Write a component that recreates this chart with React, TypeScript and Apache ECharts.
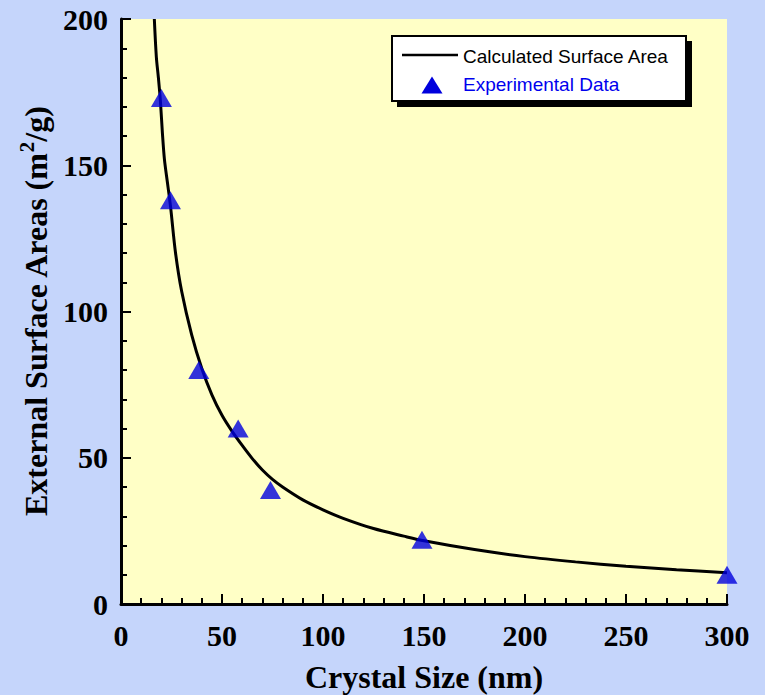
import React, { useEffect, useRef } from "react";
import * as echarts from "echarts";

// Calculated surface area curve
const curveSize = [16.5, 17.5, 18.5, 19.5, 20.5, 21.5, 23, 24.5, 27, 30, 35, 40, 45, 50, 55, 60, 65, 70, 75, 80, 90, 100, 110, 125, 140, 150, 175, 200, 225, 250, 275, 300];
const curveArea = [200, 187, 180, 172, 161, 152, 144, 136, 120, 107, 92, 80.5, 71.5, 64.5, 59, 54.2, 49.7, 45.8, 42.6, 40, 35.6, 32.2, 29.3, 25.8, 23.2, 21.6, 18.6, 16.2, 14.4, 12.9, 11.7, 10.7];

// Experimental data
const expSize = [20, 24.5, 38.5, 58, 74, 149, 300];
const expArea = [173, 138, 80, 60, 39, 22, 10];

const xTicks = [0, 50, 100, 150, 200, 250, 300];
const yTicks = [0, 50, 100, 150, 200];

const seriesNames = ["Calculated Surface Area", "Experimental Data"];

export default function App() {
  const ref = useRef<HTMLDivElement>(null);
  useEffect(() => {
    if (!ref.current) return;
    const chart = echarts.init(ref.current, null, { renderer: "svg" });
    const serif = "'Liberation Serif', 'Times New Roman', serif";
    const sans = "'Liberation Sans', Arial, sans-serif";
    const labelStyle = { fontFamily: serif, fontWeight: "bold" as const, fontSize: 30, color: "#000" };
    chart.setOption({
      animation: false,
      backgroundColor: "#c5d5fb",
      grid: {
        left: 121,
        right: 38,
        top: 19,
        bottom: 91,
        show: true,
        backgroundColor: "#ffffc6",
        borderWidth: 0,
        containLabel: false,
        outerBoundsMode: "none",
      },
      xAxis: {
        type: "value",
        min: xTicks[0],
        max: xTicks[xTicks.length - 1],
        interval: 50,
        name: "Crystal Size (nm)",
        nameLocation: "middle",
        nameGap: 60,
        nameTextStyle: { ...labelStyle, fontSize: 32, lineHeight: 26 },
        axisLine: { show: true, lineStyle: { color: "#000", width: 3 } },
        axisTick: { show: true, inside: true, length: 10, lineStyle: { color: "#000", width: 2 } },
        minorTick: { show: true, splitNumber: 5, length: 6, lineStyle: { color: "#000", width: 2 } },
        splitLine: { show: false },
        axisLabel: { ...labelStyle, margin: 16, showMinLabel: true, showMaxLabel: true },
      },
      yAxis: {
        type: "value",
        min: yTicks[0],
        max: yTicks[yTicks.length - 1],
        interval: 50,
        name: "{a|External Surface Areas (m}{s|2}{a|/g)}",
        nameLocation: "middle",
        nameGap: 64,
        nameRotate: 90,
        nameTextStyle: {
          ...labelStyle,
          rich: {
            a: { fontFamily: serif, fontWeight: "bold", fontSize: 32, color: "#000", lineHeight: 36, verticalAlign: "bottom" },
            s: { fontFamily: serif, fontWeight: "bold", fontSize: 21, color: "#000", lineHeight: 36, verticalAlign: "top" },
          },
        },
        axisLine: { show: true, lineStyle: { color: "#000", width: 3 } },
        axisTick: { show: true, inside: true, length: 10, lineStyle: { color: "#000", width: 2 } },
        minorTick: { show: true, splitNumber: 5, length: 6, lineStyle: { color: "#000", width: 2 } },
        splitLine: { show: false },
        axisLabel: { ...labelStyle, margin: 13, showMinLabel: true, showMaxLabel: true },
      },
      series: [
        {
          name: seriesNames[0],
          type: "line",
          data: curveSize.map((x, i) => [x, curveArea[i]]),
          showSymbol: false,
          smooth: 0.3,
          lineStyle: { color: "#000", width: 3 },
          clip: true,
          z: 2,
        },
        {
          name: seriesNames[1],
          type: "scatter",
          data: expSize.map((x, i) => [x, expArea[i]]),
          symbol: "triangle",
          symbolSize: [21, 18],
          itemStyle: { color: "#0000dd" },
          clip: false,
          z: 3,
        },
      ],
      graphic: [
        { type: "rect", shape: { x: 397, y: 41, width: 295, height: 66 }, style: { fill: "#000" }, z: 10 },
        { type: "rect", shape: { x: 392, y: 36, width: 294, height: 65 }, style: { fill: "#fff", stroke: "#000", lineWidth: 2 }, z: 11 },
        { type: "line", shape: { x1: 402, y1: 55, x2: 458, y2: 55 }, style: { stroke: "#000", lineWidth: 2.5 }, z: 12 },
        { type: "text", x: 463, y: 56, style: { text: seriesNames[0], font: `19px ${sans}`, fill: "#000", verticalAlign: "middle" }, z: 12 },
        { type: "polygon", shape: { points: [[421.5, 93.5], [442.5, 93.5], [432, 76.5]] }, style: { fill: "#0000dd" }, z: 12 },
        { type: "text", x: 463, y: 84, style: { text: seriesNames[1], font: `19px ${sans}`, fill: "#0000ee", verticalAlign: "middle" }, z: 12 },
      ],
    });
    return () => chart.dispose();
  }, []);
  return <div ref={ref} style={{ position: "absolute", left: 0, top: 0, width: 765, height: 695 }} />;
}
